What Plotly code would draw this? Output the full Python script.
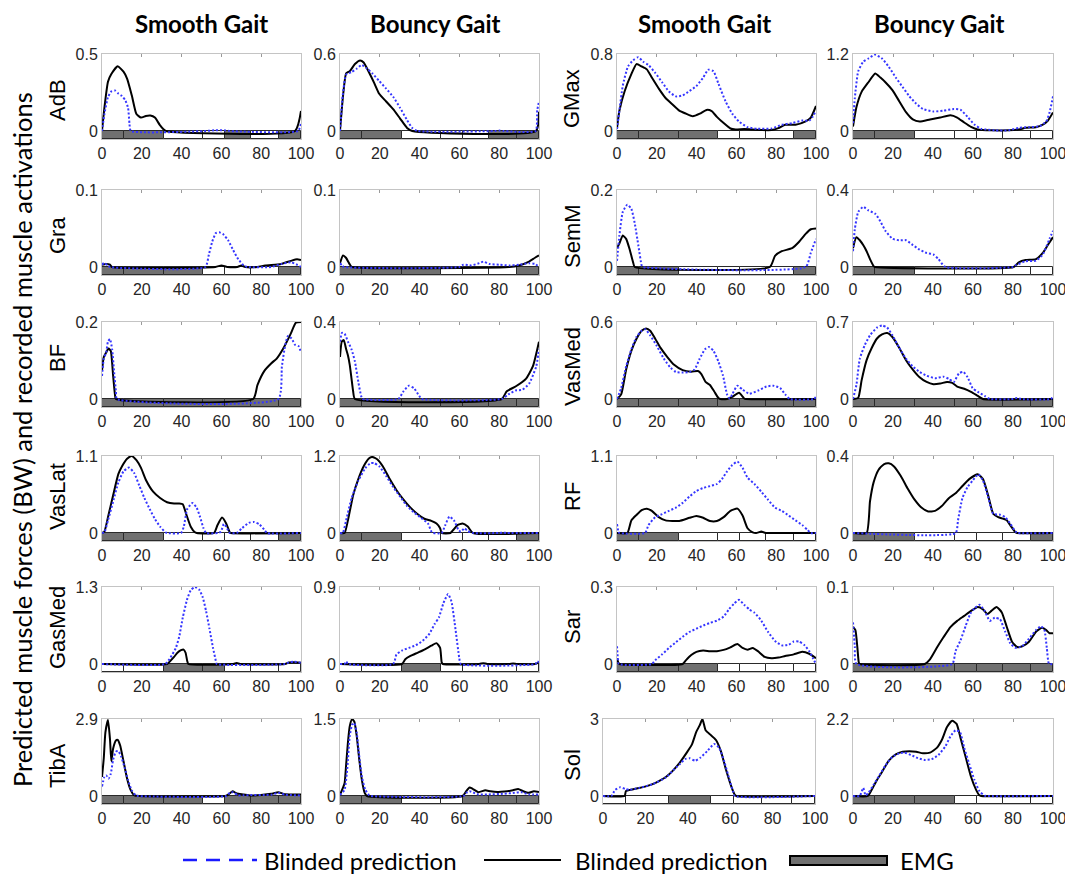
import plotly.graph_objects as go

W, H = 1073, 875
OFF = 8  # page body margin of the html page
FIG_W, FIG_H = W - OFF, H - OFF

# ---------------- data ----------------
SEG_EDGES = [0, 11, 31, 51, 62, 75, 89, 100]
X_TICKS = [0, 20, 40, 60, 80, 100]
COL_TITLES = ["Smooth Gait", "Bouncy Gait", "Smooth Gait", "Bouncy Gait"]
MUSCLES_LEFT = ["AdB", "Gra", "BF", "VasLat", "GasMed", "TibA"]
MUSCLES_RIGHT = ["GMax", "SemM", "VasMed", "RF", "Sar", "Sol"]
YMAX_LEFT_SMOOTH = [0.5, 0.1, 0.2, 1.1, 1.3, 2.9]
YMAX_LEFT_BOUNCY = [0.6, 0.1, 0.4, 1.2, 0.9, 1.5]
YMAX_RIGHT_SMOOTH = [0.8, 0.2, 0.6, 1.1, 0.3, 3]
YMAX_RIGHT_BOUNCY = [1.2, 0.4, 0.7, 0.4, 0.1, 2.2]
LEGEND_LABELS = ["Blinded prediction", "Blinded prediction", "EMG"]
Y_LABEL = "Predicted muscle forces (BW) and recorded muscle activations"

# EMG on/off per segment (1 = active)
emg_adb_s = [1, 1, 0, 0, 1, 0, 1]
emg_adb_b = [1, 1, 0, 0, 0, 1, 1]
emg_gra_s = [1, 1, 1, 0, 0, 0, 1]
emg_gra_b = [1, 1, 1, 0, 0, 0, 1]
emg_bf_s = [1, 1, 1, 1, 1, 1, 1]
emg_bf_b = [1, 1, 1, 1, 1, 1, 1]
emg_vaslat_s = [1, 1, 0, 0, 0, 0, 1]
emg_vaslat_b = [1, 1, 0, 0, 0, 0, 1]
emg_gasmed_s = [0, 0, 1, 1, 0, 0, 0]
emg_gasmed_b = [0, 0, 1, 0, 0, 0, 0]
emg_tiba_s = [1, 1, 1, 0, 1, 1, 1]
emg_tiba_b = [1, 1, 0, 0, 1, 1, 1]
emg_gmax_s = [1, 1, 1, 0, 0, 0, 1]
emg_gmax_b = [1, 1, 0, 0, 0, 0, 0]
emg_semm_s = [1, 1, 0, 0, 0, 0, 1]
emg_semm_b = [1, 1, 0, 0, 0, 0, 0]
emg_vasmed_s = [1, 1, 1, 1, 1, 1, 1]
emg_vasmed_b = [1, 1, 1, 1, 1, 1, 1]
emg_rf_s = [1, 1, 0, 0, 0, 0, 0]
emg_rf_b = [1, 1, 0, 0, 0, 0, 1]
emg_sar_s = [1, 1, 1, 0, 0, 0, 0]
emg_sar_b = [1, 1, 1, 1, 1, 1, 1]
emg_sol_s = [0, 0, 1, 0, 0, 0, 0]
emg_sol_b = [1, 1, 1, 0, 0, 0, 0]

# curves: (gait %, value)
adb_s_black = [(0,0),(1.2,0.15),(3,0.32),(4.7,0.37),(7.9,0.42),(10.8,0.385),(12.6,0.34),(15,0.23),(17.3,0.11),(19.6,0.087),(22,0.097),(24.3,0.1),(26.6,0.087),(29,0.04),(31,0.01),(32,0),(97,0),(100,0.13)]
adb_s_blue = [(0,0),(1.2,0.11),(3,0.22),(4.7,0.257),(6.5,0.263),(8.2,0.243),(10,0.227),(11.7,0.2),(13.1,0.15),(13.8,0.05),(14.5,0),(52,0),(57,0.005),(62,0.004),(64,0),(98.5,0),(100,0.05)]
adb_b_black = [(0,0),(1.4,0.255),(3.1,0.45),(4.9,0.466),(7.5,0.522),(10.1,0.55),(11.9,0.534),(14.5,0.46),(17.1,0.377),(19.7,0.29),(23.2,0.23),(26.7,0.17),(30.2,0.097),(33.7,0.024),(36.3,0),(98.5,0),(100,0.15)]
adb_b_blue = [(0,0),(1.4,0.28),(3.1,0.44),(5.8,0.46),(8.4,0.486),(11,0.515),(13.6,0.486),(16.2,0.45),(19.7,0.39),(23.2,0.33),(26.7,0.267),(30.2,0.18),(33.7,0.085),(36.3,0.024),(38.9,0),(78,0),(80,0.003),(82,0),(98.3,0),(99.1,0.16),(100,0.23)]

gra_s_black = [(0,0.003),(2,0.004),(4,0.003),(5,0),(57,0),(60,0.002),(63,0),(68,0),(70,0.002),(72,0),(78,0),(82,0.002),(90,0.004),(95,0.008),(98,0.01),(100,0.009)]
gra_s_blue = [(0,0.003),(1,0.005),(3,0.002),(4,0),(51.9,0),(53.7,0.016),(55.4,0.033),(57.2,0.044),(58.9,0.045),(60.7,0.043),(63.3,0.035),(65.9,0.022),(68.5,0.01),(71.2,0.002),(73,0),(85,0),(90,0.004),(95,0.006),(98,0.003),(100,0)]
gra_b_black = [(0,0.005),(1.5,0.015),(3,0.012),(5,0.003),(6,0),(85,0),(90,0.002),(95,0.007),(98,0.012),(100,0.015)]
gra_b_blue = [(0,0.005),(1,0.002),(2,0),(60,0),(62,0.003),(66,0.002),(70,0.005),(72,0.007),(75,0.004),(80,0.003),(85,0.002),(90,0.003),(95,0.005),(98,0.004),(100,0)]

bf_s_black = [(0,0.073),(0.9,0.109),(2.1,0.121),(3.3,0.131),(4.4,0.125),(5.6,0.06),(6.5,0.012),(7,0),(76,0),(78.1,0.036),(81.6,0.073),(85.1,0.093),(87.8,0.105),(91.3,0.133),(94.8,0.169),(97.4,0.198),(100,0.2)]
bf_s_blue = [(0,0.06),(0.9,0.105),(2.1,0.121),(3,0.149),(4,0.156),(5.1,0.129),(6.1,0.069),(7,0.02),(7.5,0),(88.6,0),(90.4,0.085),(92.1,0.141),(93.5,0.164),(95.3,0.157),(97,0.141),(98.8,0.137),(100,0.121)]
bf_b_black = [(0,0.218),(0.9,0.298),(1.9,0.306),(3.1,0.258),(4,0.226),(4.9,0.177),(5.8,0.105),(6.6,0.04),(7.5,0),(81.2,0),(83.8,0.04),(88.2,0.065),(93.4,0.105),(96.9,0.169),(100,0.298)]
bf_b_blue = [(0,0.298),(1,0.344),(2.3,0.339),(4,0.298),(5.8,0.258),(7.5,0.194),(9.2,0.089),(10.6,0.016),(11.3,0),(29.3,0),(31.9,0.04),(34.6,0.069),(37.2,0.056),(39.8,0.016),(41,0),(81.2,0),(84.6,0.024),(88.2,0.044),(91.6,0.048),(95.1,0.081),(98.6,0.169),(100,0.258)]

vaslat_s_black = [(0,0),(1.2,0.02),(3,0.226),(5.6,0.54),(8.2,0.84),(10,0.95),(12.6,1.06),(14.9,1.1),(17.3,1.04),(19.6,0.93),(22.2,0.75),(25.7,0.59),(29.2,0.5),(32.7,0.44),(36.2,0.42),(38.8,0.42),(40.6,0.41),(42.3,0.27),(44.6,0.09),(46.7,0.01),(47.6,0),(56.3,0),(58,0.11),(60.3,0.22),(62.4,0.136),(64.2,0.01),(64.7,0),(100,0)]
vaslat_s_blue = [(0,0),(1.2,0.01),(3,0.18),(5.6,0.45),(8.2,0.72),(10.8,0.88),(13.5,0.935),(16.1,0.86),(18.7,0.68),(21.3,0.5),(24,0.34),(26.6,0.2),(29.2,0.09),(31.8,0.01),(32.7,0),(39.7,0),(41.1,0.09),(42.8,0.34),(45.5,0.43),(47.6,0.36),(49.3,0.226),(51,0.068),(52.3,0),(58.5,0),(59.8,0.02),(61.2,0.13),(62.4,0.09),(64.2,0),(67.7,0),(70.3,0.068),(73.8,0.145),(76.4,0.158),(79,0.127),(81.6,0.045),(83,0),(100,0)]
vaslat_b_black = [(0,0),(2.3,0),(4,0.2),(6.6,0.59),(9.2,0.84),(11.9,1.04),(14.5,1.16),(16.2,1.185),(18.8,1.146),(21.5,1.04),(25,0.84),(28.4,0.667),(31.9,0.52),(35.4,0.395),(38.9,0.296),(42.4,0.222),(45.9,0.188),(48.5,0.148),(50.3,0.074),(51.1,0),(55.5,0),(57,0.05),(59,0.123),(61.6,0.148),(64.2,0.1),(66.8,0),(100,0)]
vaslat_b_blue = [(0,0),(1.4,0),(3.1,0.2),(5.8,0.54),(9.2,0.815),(12.7,1.01),(15.4,1.09),(17.1,1.09),(19.7,1.04),(23.2,0.89),(26.7,0.716),(30.2,0.568),(33.7,0.42),(37.2,0.32),(40.7,0.237),(44.2,0.148),(45.9,0.025),(46.8,0),(51.1,0),(52.9,0.123),(55,0.257),(57.2,0.2),(59.5,0.05),(60.7,0.02),(62.5,0.074),(64.2,0.03),(66.8,0),(80,0),(82,0.005),(84,0),(100,0)]

gasmed_s_black = [(0,0),(32.7,0),(34.4,0.054),(36.2,0.12),(37.9,0.19),(39.7,0.233),(41,0.244),(42,0.19),(42.8,0.054),(43.4,0),(66,0),(67.7,0.016),(69.4,0),(92,0),(93.9,0.027),(97.4,0.03),(100,0.02)]
gasmed_s_blue = [(0,0),(31.8,0),(34.4,0.108),(37.1,0.27),(38.8,0.46),(40.6,0.785),(42.7,1.083),(44.6,1.246),(46.7,1.3),(48.8,1.257),(50.5,1.14),(52.3,0.894),(54,0.596),(55.8,0.27),(57.2,0.054),(57.7,0),(92,0),(93.9,0.027),(96.5,0.038),(100,0.02)]
gasmed_b_black = [(0,0),(31.1,0),(32.8,0.056),(35.4,0.094),(38.9,0.131),(42.4,0.169),(45.9,0.214),(48.5,0.244),(50.3,0.188),(51.1,0.02),(51.7,0),(70,0),(72,0.01),(74,0),(85,0),(87,0.005),(89,0),(98,0),(100,0.02)]
gasmed_b_blue = [(0,0),(2.2,0),(3.1,0.03),(4,0),(26.7,0),(28.4,0.112),(31.1,0.157),(34.6,0.188),(38,0.218),(41.5,0.27),(45,0.356),(47.6,0.469),(49.7,0.544),(52,0.713),(54.3,0.818),(56,0.731),(58.1,0.394),(59.9,0.075),(60.7,0),(98.2,0),(99.1,0.03),(100,0.02)]

tiba_s_black = [(0,0.716),(0.9,1.43),(1.7,2.39),(3,2.86),(4,2.15),(4.7,1.31),(5.6,1.79),(7,2.09),(7.9,2.11),(9.1,1.91),(10.8,1.31),(12.6,0.656),(14.3,0.24),(16.1,0.036),(18.7,0),(62,0),(63.3,0.04),(65.6,0.18),(67.7,0.095),(71.2,0.06),(74.7,0.02),(79.9,0.04),(85.1,0.084),(88.6,0.143),(91.3,0.08),(95.6,0.06),(100,0.06)]
tiba_s_blue = [(0,0.358),(1.2,0.716),(2.1,0.776),(3.3,0.656),(4.4,0.835),(5.6,1.37),(7,1.67),(8.2,1.69),(9.6,1.49),(11.4,1.07),(13.1,0.597),(14.9,0.215),(17,0.024),(18,0),(62.5,0),(64.2,0.12),(65.9,0.143),(68.5,0.02),(71,0.03),(85.1,0.05),(88.6,0.12),(92.1,0.05),(100,0.02)]
tiba_b_black = [(0,0.02),(1.4,0.154),(2.3,0.247),(3.1,0.617),(4,1.05),(4.9,1.36),(6.1,1.5),(7.2,1.45),(8.4,1.17),(9.6,0.74),(11,0.31),(12.4,0.062),(13.6,0),(61.6,0),(63.4,0.093),(65.1,0.167),(66.8,0.136),(69.5,0.074),(73,0.111),(75.6,0.093),(79.1,0.08),(82.5,0.086),(86.9,0.111),(89.5,0.136),(92.1,0.093),(94.8,0.062),(97.4,0.093),(100,0.08)]
tiba_b_blue = [(0,0.02),(2.3,0.123),(3.7,0.556),(4.9,1.17),(6.1,1.39),(7.2,1.42),(8.4,1.23),(9.6,0.8),(11,0.37),(12.7,0.123),(14.5,0.02),(15.5,0),(62,0),(63.4,0.06),(65.1,0.093),(69.5,0.03),(73.9,0.03),(82.5,0.043),(87.8,0.062),(91.3,0.074),(94.8,0.03),(100,0.03)]

gmax_s_black = [(0,0.03),(1.2,0.21),(3.8,0.41),(7.2,0.59),(9.8,0.695),(12.4,0.67),(15,0.64),(17.5,0.555),(21,0.44),(24.4,0.343),(27.8,0.278),(31.3,0.212),(34.7,0.18),(38.1,0.153),(41.6,0.18),(45,0.219),(47.6,0.206),(50.2,0.147),(53.6,0.082),(57,0.026),(59.6,0.016),(63.9,0.02),(67.4,0.016),(72.5,0.01),(77.7,0.01),(81.1,0.03),(84.5,0.065),(89.7,0.065),(94.8,0.1),(97.4,0.14),(100,0.26)]
gmax_s_blue = [(0,0.02),(1.2,0.21),(2.9,0.47),(5.5,0.67),(8.1,0.735),(10.7,0.767),(13.2,0.72),(15.8,0.686),(19.2,0.604),(22.7,0.506),(26.1,0.41),(29.6,0.36),(33,0.37),(36.4,0.415),(39.9,0.467),(43.3,0.555),(45.9,0.637),(48.5,0.62),(51,0.49),(54.5,0.31),(57.9,0.18),(61.3,0.098),(65.6,0.04),(70.8,0.023),(77.7,0.026),(82.8,0.065),(88,0.082),(93.1,0.108),(96.6,0.108),(98.3,0.147),(100,0.21)]
gmax_b_black = [(0,0.07),(1.7,0.37),(4.3,0.61),(7.7,0.76),(11.1,0.896),(13.7,0.833),(16.2,0.76),(19.7,0.637),(23.1,0.465),(26.5,0.294),(29.9,0.18),(33.3,0.147),(38.5,0.18),(43.6,0.21),(48.7,0.245),(52.1,0.21),(55.6,0.132),(59,0.064),(62.4,0.024),(69.2,0.01),(77.8,0.01),(82.9,0.024),(86.3,0.05),(91.5,0.06),(94.9,0.1),(97.4,0.16),(100,0.29)]
gmax_b_blue = [(0,0.12),(0.9,0.51),(2.6,0.93),(5.1,1.08),(7.7,1.13),(11.1,1.19),(14.5,1.13),(17.9,1.0),(21.4,0.833),(24.8,0.686),(28.2,0.54),(31.6,0.426),(35,0.343),(40.2,0.304),(45.3,0.318),(50.4,0.343),(53.8,0.33),(57.3,0.22),(60.7,0.1),(64.1,0.034),(70.9,0.01),(77.8,0.01),(82.9,0.05),(88,0.06),(93.2,0.073),(96.6,0.147),(98.3,0.29),(100,0.54)]

semm_s_black = [(0,0.049),(1.2,0.061),(2.9,0.082),(4.6,0.073),(6.4,0.045),(8.1,0.012),(8.9,0),(76.8,0),(79.4,0.029),(82.8,0.041),(88,0.049),(91.4,0.065),(94.8,0.086),(97.4,0.098),(100,0.1)]
semm_s_blue = [(0,0.016),(1.2,0.082),(2.9,0.143),(5.2,0.162),(7.2,0.151),(8.9,0.114),(10.7,0.057),(12.4,0.004),(13,0),(94.8,0),(97.4,0.037),(100,0.073)]
semm_b_black = [(0,0.098),(1.7,0.155),(3.4,0.139),(5.1,0.114),(6.8,0.082),(8.5,0.041),(10.3,0.005),(11,0),(80.3,0),(82.9,0.024),(86.3,0.036),(91.5,0.041),(94.9,0.073),(97.4,0.114),(100,0.155)]
semm_b_blue = [(0,0.082),(0.9,0.196),(2.6,0.286),(5.1,0.313),(7.7,0.294),(11.1,0.277),(13.7,0.237),(16.2,0.188),(19.7,0.147),(23.1,0.139),(26.5,0.139),(29.9,0.114),(33.3,0.09),(36.8,0.073),(40.2,0.065),(42.7,0.041),(46.2,0),(80,0),(81.2,0.008),(86.3,0.03),(91.5,0.033),(94.9,0.065),(98.3,0.147),(100,0.188)]

vasmed_s_black = [(0,0),(2.1,0.036),(4.6,0.23),(7.2,0.375),(9.8,0.47),(12.4,0.532),(14.6,0.55),(16.7,0.532),(19.2,0.47),(21.8,0.4),(25.3,0.327),(28.7,0.266),(33,0.225),(37.3,0.213),(40.7,0.218),(42.4,0.194),(44.5,0.133),(46.7,0.109),(48.8,0.06),(51,0.007),(51.9,0),(55.3,0),(57.9,0.017),(61.3,0.048),(63.9,0.004),(64.8,0),(100,0)]
vasmed_s_blue = [(0,0),(2.1,0.085),(4.6,0.254),(7.2,0.387),(9.8,0.484),(12.4,0.532),(14.1,0.544),(16.7,0.496),(20.1,0.411),(23.5,0.315),(27,0.242),(29.6,0.21),(33,0.206),(36.4,0.21),(39,0.23),(41.6,0.315),(44.2,0.387),(46.2,0.406),(48.5,0.375),(51,0.29),(53.3,0.181),(55.3,0.036),(56.7,0.004),(57.9,0.036),(60.5,0.104),(63.1,0.073),(66.5,0.041),(70.8,0.065),(75.1,0.097),(78.5,0.104),(82,0.085),(84.5,0.036),(86.8,0),(99,0),(100,0.02)]
vasmed_b_black = [(0,0),(2.6,0.01),(4.3,0.169),(6.8,0.353),(9.4,0.466),(12,0.55),(14.5,0.587),(17.1,0.6),(19.7,0.564),(23.1,0.466),(26.5,0.353),(29.9,0.268),(33.3,0.198),(36.8,0.155),(40.2,0.135),(43.6,0.141),(47,0.155),(49.6,0.147),(52.1,0.113),(55.6,0.093),(59,0.065),(62.4,0.028),(65,0),(100,0)]
vasmed_b_blue = [(0,0),(1.7,0.127),(3.4,0.367),(6,0.494),(8.5,0.579),(12,0.649),(14.5,0.669),(17.1,0.649),(19.7,0.579),(23.1,0.466),(26.5,0.367),(29.9,0.296),(33.3,0.246),(36.8,0.212),(41,0.189),(45.3,0.203),(47.9,0.183),(50.4,0.155),(53,0.234),(55.2,0.246),(57.3,0.198),(59.8,0.099),(62.4,0.065),(65.8,0.028),(68.4,0),(80,0),(82,0.01),(84,0),(99,0),(100,0.03)]

rf_s_black = [(0,0),(5.2,0),(7.2,0.18),(9.8,0.258),(12.4,0.326),(15,0.348),(17.5,0.317),(21,0.226),(24.4,0.18),(27.8,0.172),(31.3,0.172),(36.4,0.217),(39.9,0.244),(43.3,0.217),(46.7,0.172),(50.2,0.172),(53.6,0.226),(57,0.317),(60.5,0.348),(63.1,0.249),(65.6,0.068),(68.2,0.009),(69.9,0),(72.5,0.02),(74.2,0.005),(75.9,0),(100,0)]
rf_s_blue = [(0,0.127),(0.7,0.02),(1.2,0),(14.1,0),(15.8,0.113),(19.2,0.226),(22.7,0.27),(26.1,0.317),(29.6,0.362),(33,0.43),(36.4,0.52),(39.9,0.6),(43.3,0.643),(46.7,0.67),(50.2,0.7),(52.7,0.77),(55.3,0.88),(57.9,0.97),(60.5,1.02),(63.1,0.93),(65.6,0.79),(69.1,0.7),(72.5,0.59),(75.9,0.475),(79.4,0.362),(82.8,0.317),(86.3,0.249),(89.7,0.18),(93.1,0.113),(95.7,0.045),(97.4,0),(100,0)]
rf_b_black = [(0,0),(6.8,0),(8.5,0.165),(10.3,0.263),(12.8,0.329),(15.4,0.357),(17.9,0.362),(20.5,0.346),(23.9,0.296),(27.4,0.23),(30.8,0.173),(34.2,0.132),(37.6,0.112),(41,0.115),(44.4,0.14),(47.9,0.181),(51.3,0.206),(54.7,0.244),(58.1,0.28),(62.4,0.305),(65,0.28),(67.5,0.198),(70.1,0.1),(72.6,0.082),(75.2,0.074),(76.9,0.066),(78.6,0.041),(81.2,0.004),(82,0),(100,0)]
rf_b_blue = [(0,0),(51.3,0),(52.5,0.066),(54.7,0.181),(57.3,0.239),(59.8,0.272),(62.7,0.305),(65,0.272),(67.5,0.19),(70.1,0.1),(73.5,0.095),(76.1,0.082),(78.6,0.049),(81.2,0.008),(82.5,0),(100,0)]

sar_s_black = [(0,0.0225),(0.7,0.005),(1.2,0),(33,0),(34.7,0.015),(37.3,0.035),(39.9,0.0475),(43.3,0.0525),(46.7,0.05),(50.2,0.05),(53.6,0.055),(57,0.065),(60.5,0.0775),(63.1,0.0625),(65.6,0.056),(68.2,0.0625),(70.8,0.05),(74.2,0.0275),(77.7,0.0225),(81.1,0.025),(84.5,0.031),(88.8,0.0375),(93.1,0.0475),(96.6,0.04),(100,0.0225)]
sar_s_blue = [(0,0.069),(0.4,0.025),(0.9,0),(17.5,0),(19.2,0.015),(22.7,0.0375),(26.1,0.0625),(29.6,0.085),(33,0.106),(36.4,0.125),(39.9,0.1375),(43.3,0.15),(46.7,0.16),(50.2,0.169),(53.6,0.185),(56.2,0.2125),(58.8,0.235),(61.3,0.25),(63.9,0.231),(66.5,0.2125),(69.1,0.2),(72.5,0.169),(75.9,0.125),(79.4,0.09),(82.8,0.0725),(86.3,0.075),(88.8,0.0875),(91.4,0.0875),(94,0.075),(96.6,0.05),(98.3,0.025),(100,0)]
sar_b_black = [(0,0.048),(1.2,0.044),(2.2,0.021),(2.9,0.002),(3.4,0),(35.9,0),(38.5,0.006),(41.9,0.021),(45.3,0.035),(48.7,0.048),(52.1,0.056),(55.6,0.0625),(59,0.069),(62.4,0.074),(65,0.071),(67.2,0.065),(69.2,0.069),(71.8,0.074),(74.4,0.067),(76.9,0.048),(79.5,0.029),(82.1,0.022),(84.6,0.023),(88,0.029),(91.5,0.042),(94.5,0.047),(96.6,0.044),(98.3,0.04),(100,0.04)]
sar_b_blue = [(0,0.054),(0.9,0.023),(1.7,0),(49.6,0),(51.3,0.017),(53.8,0.031),(56.4,0.05),(58.6,0.065),(60.7,0.072),(63.2,0.077),(65.8,0.069),(68.4,0.056),(70.9,0.06),(73.5,0.058),(76.1,0.042),(78.6,0.027),(81.2,0.021),(84.6,0.023),(88,0.033),(91.5,0.044),(94,0.049),(95.7,0.044),(96.9,0.021),(98,0),(100,0)]

sol_s_black = [(0,0),(10.2,0),(10.8,0.19),(13.7,0.25),(16.9,0.31),(20.2,0.375),(23.4,0.46),(26.6,0.59),(29.8,0.75),(33.1,1.0),(36.3,1.31),(39.5,1.69),(41.9,2.0),(44,2.5),(45.6,2.75),(46.9,3.0),(48.4,2.56),(50.8,2.375),(53.2,2.19),(55.6,1.75),(58.1,1.0),(60.5,0.375),(62.1,0.06),(62.9,0),(100,0)]
sol_s_blue = [(0,0),(4,0),(5.6,0.225),(8.1,0.34),(10.5,0.275),(12.4,0.24),(16.9,0.31),(23.4,0.46),(29.8,0.73),(33.1,1.0),(36.3,1.25),(38.7,1.44),(40.8,1.47),(43.5,1.375),(46,1.5),(49.2,1.75),(52.4,2.03),(54.8,1.875),(57.3,1.31),(59.7,0.625),(61.3,0.19),(62.1,0),(100,0)]
sol_b_black = [(0,0),(7.4,0),(9.4,0.183),(12,0.458),(14.5,0.6875),(17.9,1.01),(21.4,1.19),(24.8,1.265),(28.2,1.28),(31.6,1.265),(35,1.22),(38.5,1.24),(41.9,1.375),(44.4,1.6),(47,1.97),(49.6,2.15),(51.8,2.06),(53.8,1.65),(56.4,1.1),(59,0.55),(61.5,0.183),(63.2,0.02),(64.1,0),(100,0)]
sol_b_blue = [(0,0),(3.4,0),(5.1,0.23),(6.3,0.02),(7.7,0.09),(10.3,0.32),(12.8,0.55),(16.2,0.87),(19.7,1.12),(23.1,1.22),(25.6,1.24),(29.1,1.17),(32.5,1.08),(35.9,1.03),(39.3,1.05),(42.7,1.17),(46.2,1.42),(48.7,1.7),(51.3,1.88),(53.5,1.83),(55.6,1.375),(58.1,0.92),(60.7,0.46),(63.2,0.14),(65.8,0.01),(66.7,0),(100,0)]

# ---------------- layout geometry (window pixels) ----------------
COL_X = [(102, 301), (340, 539), (617, 816), (853, 1053)]
ROW_TOP = [54, 190, 322, 456, 587, 719]
PLOT_H = 77     # top of frame to zero line
BAR_H = 8       # EMG strip under zero line

LEFT_ROWS = [
    (emg_adb_s, adb_s_blue, adb_s_black, emg_adb_b, adb_b_blue, adb_b_black),
    (emg_gra_s, gra_s_blue, gra_s_black, emg_gra_b, gra_b_blue, gra_b_black),
    (emg_bf_s, bf_s_blue, bf_s_black, emg_bf_b, bf_b_blue, bf_b_black),
    (emg_vaslat_s, vaslat_s_blue, vaslat_s_black, emg_vaslat_b, vaslat_b_blue, vaslat_b_black),
    (emg_gasmed_s, gasmed_s_blue, gasmed_s_black, emg_gasmed_b, gasmed_b_blue, gasmed_b_black),
    (emg_tiba_s, tiba_s_blue, tiba_s_black, emg_tiba_b, tiba_b_blue, tiba_b_black),
]
RIGHT_ROWS = [
    (emg_gmax_s, gmax_s_blue, gmax_s_black, emg_gmax_b, gmax_b_blue, gmax_b_black),
    (emg_semm_s, semm_s_blue, semm_s_black, emg_semm_b, semm_b_blue, semm_b_black),
    (emg_vasmed_s, vasmed_s_blue, vasmed_s_black, emg_vasmed_b, vasmed_b_blue, vasmed_b_black),
    (emg_rf_s, rf_s_blue, rf_s_black, emg_rf_b, rf_b_blue, rf_b_black),
    (emg_sar_s, sar_s_blue, sar_s_black, emg_sar_b, sar_b_blue, sar_b_black),
    (emg_sol_s, sol_s_blue, sol_s_black, emg_sol_b, sol_b_blue, sol_b_black),
]

BLUE = "#3535ff"
GRAY = "#707070"
TICK_FONT = dict(family="Liberation Sans, Arial, sans-serif", size=16, color="#262626")


def fx(px):
    return (px - OFF) / FIG_W


def fy(py):
    return 1 - (py - OFF) / FIG_H


def fmt(v):
    return ("%g" % v)


fig = go.Figure()
layout = {}

panels = []
for r in range(6):
    es, bs, ks, eb, bb, kb = LEFT_ROWS[r]
    panels.append((r, 0, YMAX_LEFT_SMOOTH[r], es, bs, ks))
    panels.append((r, 1, YMAX_LEFT_BOUNCY[r], eb, bb, kb))
    es, bs, ks, eb, bb, kb = RIGHT_ROWS[r]
    panels.append((r, 2, YMAX_RIGHT_SMOOTH[r], es, bs, ks))
    panels.append((r, 3, YMAX_RIGHT_BOUNCY[r], eb, bb, kb))

centers = [(SEG_EDGES[i] + SEG_EDGES[i + 1]) / 2 for i in range(7)]
widths = [SEG_EDGES[i + 1] - SEG_EDGES[i] for i in range(7)]

for k, (r, c, ymax, emg, blue, black) in enumerate(panels, start=1):
    xs = "x" if k == 1 else f"x{k}"
    ys = "y" if k == 1 else f"y{k}"
    x0, x1 = COL_X[c]
    if r == 5 and c == 2:
        x0, x1 = 603, 815
    top = ROW_TOP[r]
    zero = top + PLOT_H
    bottom = zero + BAR_H
    h = ymax * BAR_H / PLOT_H

    fig.add_trace(go.Scatter(
        x=[p[0] for p in black], y=[p[1] for p in black], mode="lines",
        line=dict(color="black", width=2, shape="spline", smoothing=0.5),
        xaxis=xs, yaxis=ys, showlegend=False, hoverinfo="skip"))
    fig.add_trace(go.Scatter(
        x=[p[0] for p in blue], y=[p[1] for p in blue], mode="lines",
        line=dict(color=BLUE, width=2, dash="2px,2px", shape="spline", smoothing=0.5),
        xaxis=xs, yaxis=ys, showlegend=False, hoverinfo="skip"))
    fig.add_trace(go.Bar(
        x=centers, y=[h] * 7, base=[-h] * 7, width=widths,
        marker=dict(color=[GRAY if e else "white" for e in emg],
                    line=dict(color="#2a2a2a", width=1)),
        xaxis=xs, yaxis=ys, showlegend=False, hoverinfo="skip"))

    xkey = "xaxis" if k == 1 else f"xaxis{k}"
    ykey = "yaxis" if k == 1 else f"yaxis{k}"
    layout[xkey] = dict(
        domain=[fx(x0), fx(x1)], anchor=ys, range=[0, 100],
        tickvals=X_TICKS, ticktext=[str(t) for t in X_TICKS],
        ticks="inside", ticklen=3, tickcolor="#9a9a9a", tickwidth=1,
        showline=True, linecolor="#c4c4c4", linewidth=1, mirror="ticks",
        showgrid=False, zeroline=False, tickfont=TICK_FONT, automargin=False,
        fixedrange=True, layer="below traces")
    layout[ykey] = dict(
        domain=[fy(bottom), fy(top)], anchor=xs, range=[-h, ymax],
        tickvals=[0, ymax], ticktext=["0", fmt(ymax)], ticks="",
        showline=True, linecolor="#c4c4c4", linewidth=1, mirror=True,
        showgrid=False, zeroline=False, tickfont=TICK_FONT, automargin=False,
        fixedrange=True, layer="below traces")

annotations = []
# column titles
TITLE_X = [201, 435, 704, 939]
for t, x in zip(COL_TITLES, TITLE_X):
    annotations.append(dict(x=fx(x), y=1, xref="paper", yref="paper", text=t,
                            showarrow=False, xanchor="center", yanchor="top", borderpad=0,
                            font=dict(family="Lato, sans-serif", size=24, color="black", weight="bold")))
# muscle labels
LEFT_LABEL_Y = [100, 236, 358, 497, 628, 766]
RIGHT_LABEL_Y = [99, 236, 367, 497, 627, 765]
LBL_FONT = dict(family="Liberation Sans, Arial, sans-serif", size=22, color="black")
for name, y in zip(MUSCLES_LEFT, LEFT_LABEL_Y):
    annotations.append(dict(x=fx(57), y=fy(y), xref="paper", yref="paper", text=name,
                            textangle=-90, showarrow=False, xanchor="center", yanchor="middle",
                            font=LBL_FONT))
for name, y in zip(MUSCLES_RIGHT, RIGHT_LABEL_Y):
    annotations.append(dict(x=fx(572), y=fy(y), xref="paper", yref="paper", text=name,
                            textangle=-90, showarrow=False, xanchor="center", yanchor="middle",
                            font=LBL_FONT))
# global y label
annotations.append(dict(x=fx(22), y=fy(440), xref="paper", yref="paper", text=Y_LABEL,
                        textangle=-90, showarrow=False, xanchor="center", yanchor="middle",
                        font=dict(family="Lato, sans-serif", size=25.5, color="black")))

# legend (drawn manually)
LEG_Y = 860
LEG_FONT = dict(family="Lato, sans-serif", size=24, color="black")
shapes = [
    dict(type="line", xref="paper", yref="paper", x0=fx(183), x1=fx(257), y0=fy(LEG_Y), y1=fy(LEG_Y),
         line=dict(color="#1a1aff", width=2.5, dash="14px,9px")),
    dict(type="line", xref="paper", yref="paper", x0=fx(484), x1=fx(561), y0=fy(LEG_Y), y1=fy(LEG_Y),
         line=dict(color="black", width=2)),
    dict(type="rect", xref="paper", yref="paper", x0=fx(790), x1=fx(887), y0=fy(LEG_Y + 5), y1=fy(LEG_Y - 4),
         fillcolor=GRAY, line=dict(color="black", width=2)),
]
for text, x in zip(LEGEND_LABELS, [262, 573, 898]):
    annotations.append(dict(x=fx(x), y=fy(LEG_Y), xref="paper", yref="paper", text=text,
                            showarrow=False, xanchor="left", yanchor="middle", font=LEG_FONT))

fig.update_layout(
    width=FIG_W, height=FIG_H,
    margin=dict(l=0, r=0, t=0, b=0, autoexpand=False),
    paper_bgcolor="white", plot_bgcolor="white",
    showlegend=False, annotations=annotations, shapes=shapes,
    bargap=0, template="none",
    **layout)

fig.write_html("out.html")
